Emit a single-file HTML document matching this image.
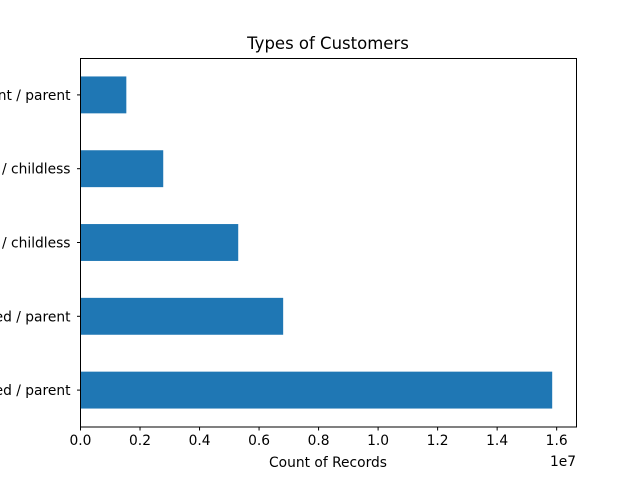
<!DOCTYPE html>
<html><head><meta charset="utf-8"><style>
html,body{margin:0;padding:0;background:#fff;}
svg{display:block;font-family:"DejaVu Sans","Liberation Sans",sans-serif;}
</style></head><body>
<svg id="chart" width="640" height="480" viewBox="0 0 640 480">
<rect x="0" y="0" width="640" height="480" fill="#fff"/>
<text x="328" y="49" font-size="16.5" text-anchor="middle" fill="#000">Types of Customers</text>
<g id="bars"></g>
<g id="yticks"></g>
<g id="xticks"></g>
<rect x="80.5" y="58.5" width="496" height="368.5" fill="none" stroke="#000" stroke-width="1"/>
<text x="328" y="467" font-size="13.8" text-anchor="middle" fill="#000">Count of Records</text>
<text x="576" y="466" font-size="13.8" text-anchor="end" fill="#000">1e7</text>
</svg>
<script>
const categories = ["married / parent", "divorced / parent", "married / childless", "single / childless", "independent / parent"];
const values = [15850000, 6810000, 5300000, 2780000, 1540000];
const xTickLabels = ["0.0","0.2","0.4","0.6","0.8","1.0","1.2","1.4","1.6"];
const xTickValues = [0,2000000,4000000,6000000,8000000,10000000,12000000,14000000,16000000];

const NS="http://www.w3.org/2000/svg";
const x0=80.5, pxPerUnit=297.6/1e7, yBottom=427, slot=73.8;
function xScale(v){return x0+v*pxPerUnit;}
function yCenter(i){return yBottom-slot*(i+0.5);}
function mk(tag,attrs){const e=document.createElementNS(NS,tag);for(const k in attrs)e.setAttribute(k,attrs[k]);return e;}
const gb=document.getElementById('bars'), gy=document.getElementById('yticks'), gx=document.getElementById('xticks');
categories.forEach((c,i)=>{
  const yc=yCenter(i), h=slot*0.5;
  const r=mk('rect',{x:x0,y:yc-h/2,width:xScale(values[i])-x0,height:h,fill:'#1f77b4'});
  
  
  gb.appendChild(r);
  const t=mk('line',{x1:x0-3.5,x2:x0,y1:yc,y2:yc,stroke:'#000','stroke-width':1});
  
  
  gy.appendChild(t);
  const l=mk('text',{x:x0-10,y:yc+5,'font-size':13.8,'text-anchor':'end',fill:'#000'});
  l.textContent=c;
  
  
  gy.appendChild(l);
});
xTickValues.forEach((v,i)=>{
  const x=xScale(v);
  const t=mk('line',{x1:x,x2:x,y1:yBottom,y2:yBottom+3.5,stroke:'#000','stroke-width':1});
  
  
  gx.appendChild(t);
  const l=mk('text',{x:x,y:yBottom+18,'font-size':13.8,'text-anchor':'middle',fill:'#000'});
  l.textContent=xTickLabels[i];
  
  
  gx.appendChild(l);
});
</script>
</body></html>
